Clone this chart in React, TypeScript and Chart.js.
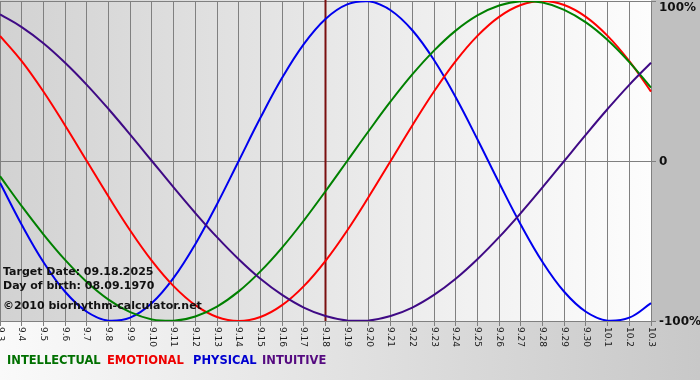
import React, { useEffect, useRef } from "react";
import { Chart, registerables } from "chart.js";

Chart.register(...registerables);

const dayLabels = [
  "9.3", "9.4", "9.5", "9.6", "9.7", "9.8", "9.9", "9.10", "9.11", "9.12",
  "9.13", "9.14", "9.15", "9.16", "9.17", "9.18", "9.19", "9.20", "9.21", "9.22",
  "9.23", "9.24", "9.25", "9.26", "9.27", "9.28", "9.29", "9.30", "10.1", "10.2", "10.3",
];

const physical = [
  -13.6, -39.8, -63.1, -81.7, -94.2, -99.8, -97.9, -88.8, -73.1, -52.0, -27.0,
  0, 27.0, 52.0, 73.1, 88.8, 97.9, 99.8, 94.2, 81.7, 63.1, 39.8, 13.6,
  -13.6, -39.8, -63.1, -81.7, -94.2, -99.8, -97.9, -88.8,
];

const emotional = [
  78.2, 62.4, 43.4, 22.2, 0, -22.2, -43.4, -62.4, -78.2, -90.1, -97.5, -100,
  -97.5, -90.1, -78.2, -62.4, -43.4, -22.2, 0, 22.2, 43.4, 62.4, 78.2, 90.1,
  97.5, 100, 97.5, 90.1, 78.2, 62.4, 43.4,
];

const intellectual = [
  -9.5, -28.2, -45.8, -61.8, -75.6, -86.6, -94.5, -99.0, -99.9, -97.2, -91.0,
  -81.5, -69.0, -54.1, -37.2, -18.9, 0, 18.9, 37.2, 54.1, 69.0, 81.5, 91.0,
  97.2, 99.9, 99.0, 94.5, 86.6, 75.6, 61.8, 45.8,
];

const intuitive = [
  91.6, 83.7, 73.6, 61.4, 47.6, 32.5, 16.5, 0, -16.5, -32.5, -47.6, -61.4,
  -73.6, -83.7, -91.6, -96.9, -99.7, -99.7, -96.9, -91.6, -83.7, -73.6, -61.4,
  -47.6, -32.5, -16.5, 0, 16.5, 32.5, 47.6, 61.4,
];

const targetLabel = "9.18";
const yTickValues = [100, 0, -100];
const yTickTexts = ["100%", "0", "-100%"];
const infoLines = [
  "Target Date: 09.18.2025",
  "Day of birth: 08.09.1970",
  "\u00A92010 biorhythm-calculator.net",
];
const legendItems = [
  { text: "INTELLECTUAL", color: "#007000" },
  { text: "EMOTIONAL", color: "#ee0000" },
  { text: "PHYSICAL", color: "#0000d0" },
  { text: "INTUITIVE", color: "#550a80" },
];

const decorPlugin = {
  id: "decor",
  beforeDraw(chart: any) {
    const { ctx, chartArea, width, height } = chart;
    ctx.save();
    const bg = ctx.createLinearGradient(0, 0, width, 0);
    bg.addColorStop(0, "#fafafa");
    bg.addColorStop(1, "#c8c8c8");
    ctx.fillStyle = bg;
    ctx.fillRect(0, 0, width, height);
    ctx.fillStyle = "#c0c0c0";
    ctx.fillRect(chartArea.right, 0, width - chartArea.right, chartArea.bottom);
    const pg = ctx.createLinearGradient(chartArea.left, 0, chartArea.right, 0);
    pg.addColorStop(0, "#d2d2d2");
    pg.addColorStop(1, "#fdfdfd");
    ctx.fillStyle = pg;
    ctx.fillRect(chartArea.left, 0, chartArea.right - chartArea.left, chartArea.bottom);
    ctx.restore();
  },
  beforeDatasetsDraw(chart: any) {
    const { ctx, chartArea } = chart;
    const xs = chart.scales.x;
    const idx = dayLabels.indexOf(targetLabel);
    const x = xs.getPixelForTick(idx);
    ctx.save();
    ctx.strokeStyle = "#7a1010";
    ctx.lineWidth = 2;
    ctx.beginPath();
    ctx.moveTo(x, 0);
    ctx.lineTo(x, chartArea.bottom);
    ctx.stroke();
    ctx.restore();
  },
  afterDraw(chart: any) {
    const { ctx, chartArea } = chart;
    const xs = chart.scales.x;
    const ys = chart.scales.y;
    ctx.save();
    // x tick labels rotated clockwise
    ctx.fillStyle = "#1a1a1a";
    ctx.font = "9px 'DejaVu Sans'";
    ctx.textAlign = "left";
    ctx.textBaseline = "middle";
    dayLabels.forEach((lab, i) => {
      const x = xs.getPixelForTick(i);
      ctx.save();
      ctx.translate(x, chartArea.bottom + 6);
      ctx.rotate(Math.PI / 2);
      ctx.fillText(lab, 0, 0);
      ctx.restore();
    });
    // y labels
    ctx.fillStyle = "#111";
    ctx.font = "bold 12px 'DejaVu Sans'";
    ctx.textBaseline = "middle";
    yTickValues.forEach((v, i) => {
      let y = ys.getPixelForValue(v);
      if (i === 0) y += 6;
      ctx.fillText(yTickTexts[i], chartArea.right + 8, y + 1);
    });
    // info text
    ctx.font = "bold 11px 'DejaVu Sans'";
    ctx.fillStyle = "#111";
    const infoY = [272.5, 286.5, 306.5];
    infoLines.forEach((t, i) => ctx.fillText(t, 3, infoY[i]));
    // legend
    ctx.font = "bold 11.5px 'DejaVu Sans'";
    const legX = [7, 107, 193, 262];
    legendItems.forEach((it, i) => {
      ctx.fillStyle = it.color;
      ctx.fillText(it.text, legX[i], 361);
    });
    ctx.restore();
  },
};

export default function App() {
  const ref = useRef<HTMLCanvasElement>(null);
  useEffect(() => {
    document.body.style.margin = "0";
    const mk = (data: number[], color: string) => ({
      data,
      borderColor: color,
      borderWidth: 2,
      pointRadius: 0,
      tension: 0.4,
      fill: false,
    });
    const chart = new Chart(ref.current!, {
      type: "line",
      data: {
        labels: dayLabels,
        datasets: [
          mk(intuitive, "#3f0a85"),
          mk(intellectual, "#008000"),
          mk(emotional, "#ff0000"),
          mk(physical, "#0000ee"),
        ],
      },
      options: {
        animation: false,
        responsive: false,
        layout: { padding: { top: 1, left: 0, right: 0, bottom: 0 } },
        plugins: { legend: { display: false }, tooltip: { enabled: false } },
        scales: {
          x: {
            type: "category",
            offset: false,
            ticks: { display: false },
            grid: { color: "#808080", lineWidth: 1, tickLength: 5, drawTicks: true },
            border: { color: "#808080", width: 1 },
            afterFit: (s: any) => {
              s.height = 59;
            },
          },
          y: {
            position: "right",
            min: -100,
            max: 100,
            ticks: { display: false, stepSize: 100 },
            grid: { color: "#808080", lineWidth: 1, tickLength: 5, drawTicks: true },
            border: { color: "#808080", width: 1 },
            afterFit: (s: any) => {
              s.width = 49;
            },
          },
        },
      } as any,
      plugins: [decorPlugin],
    });
    return () => chart.destroy();
  }, []);
  return <canvas ref={ref} width={700} height={380} style={{ display: "block" }} />;
}
